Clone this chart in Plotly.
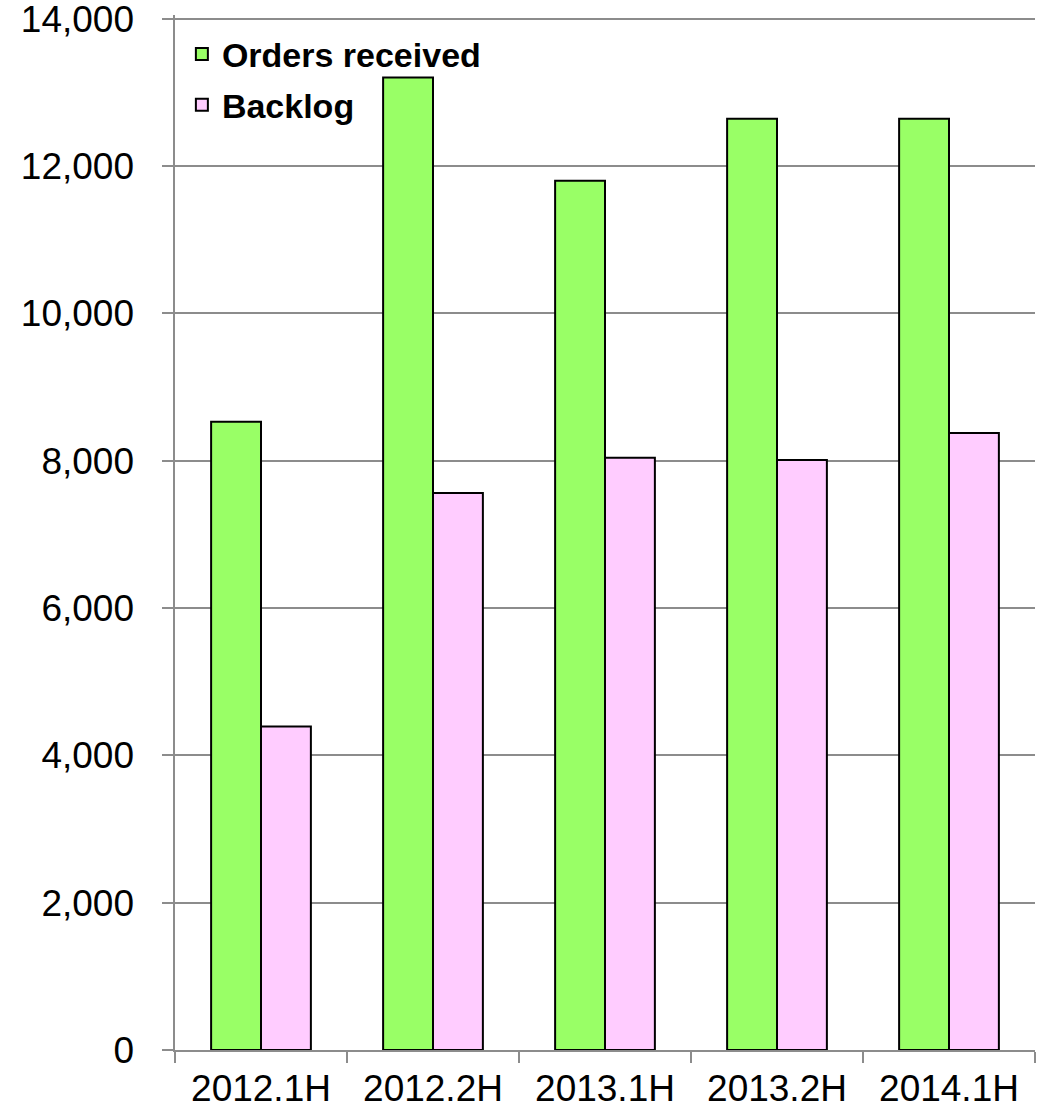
import plotly.graph_objects as go

categories = ["2012.1H", "2012.2H", "2013.1H", "2013.2H", "2014.1H"]
orders_received = [8530, 13200, 11800, 12640, 12640]
backlog = [4390, 7560, 8040, 8010, 8375]
y_tickvals = [0, 2000, 4000, 6000, 8000, 10000, 12000, 14000]
y_ticktext = [f"{v:,}" + "\u00a0\u00a0" for v in y_tickvals]

fig = go.Figure()
fig.add_trace(go.Bar(name="Orders received", x=categories, y=orders_received,
                     marker=dict(color="#99FF66", line=dict(color="black", width=2)),
                     legend="legend"))
fig.add_trace(go.Bar(name="Backlog", x=categories, y=backlog,
                     marker=dict(color="#FFCCFF", line=dict(color="black", width=2)),
                     legend="legend2"))

grid = "#8c8c8c"
legend_font = dict(size=34, family="Liberation Sans, Arial, sans-serif", weight="bold", color="black")
fig.update_layout(
    width=1049, height=1110,
    margin=dict(l=175, r=14, t=15, b=60),
    paper_bgcolor="white", plot_bgcolor="white",
    barmode="group", bargap=0.42, bargroupgap=0,
    font=dict(family="Liberation Sans, Arial, sans-serif", color="black"),
    showlegend=True,
    legend=dict(x=0.008, y=0.962, xanchor="left", yanchor="middle",
                bgcolor="rgba(0,0,0,0)", font=legend_font),
    legend2=dict(x=0.008, y=0.913, xanchor="left", yanchor="middle",
                 bgcolor="rgba(0,0,0,0)", font=legend_font),
)
fig.update_xaxes(
    showline=True, linecolor=grid, linewidth=2,
    ticks="outside", tickson="boundaries", ticklen=11, tickcolor=grid, tickwidth=2,
    tickfont=dict(size=37), showgrid=False, ticklabelstandoff=5, automargin=False,
)
fig.update_yaxes(
    range=[0, 14050], tickvals=y_tickvals, ticktext=y_ticktext,
    showline=True, linecolor=grid, linewidth=2,
    ticks="outside", ticklen=11, tickcolor=grid, tickwidth=2,
    showgrid=True, gridcolor=grid, gridwidth=2,
    tickfont=dict(size=37), zeroline=False, automargin=False,
    ticklabeloverflow="allow",
)
fig.write_html("out.html")
